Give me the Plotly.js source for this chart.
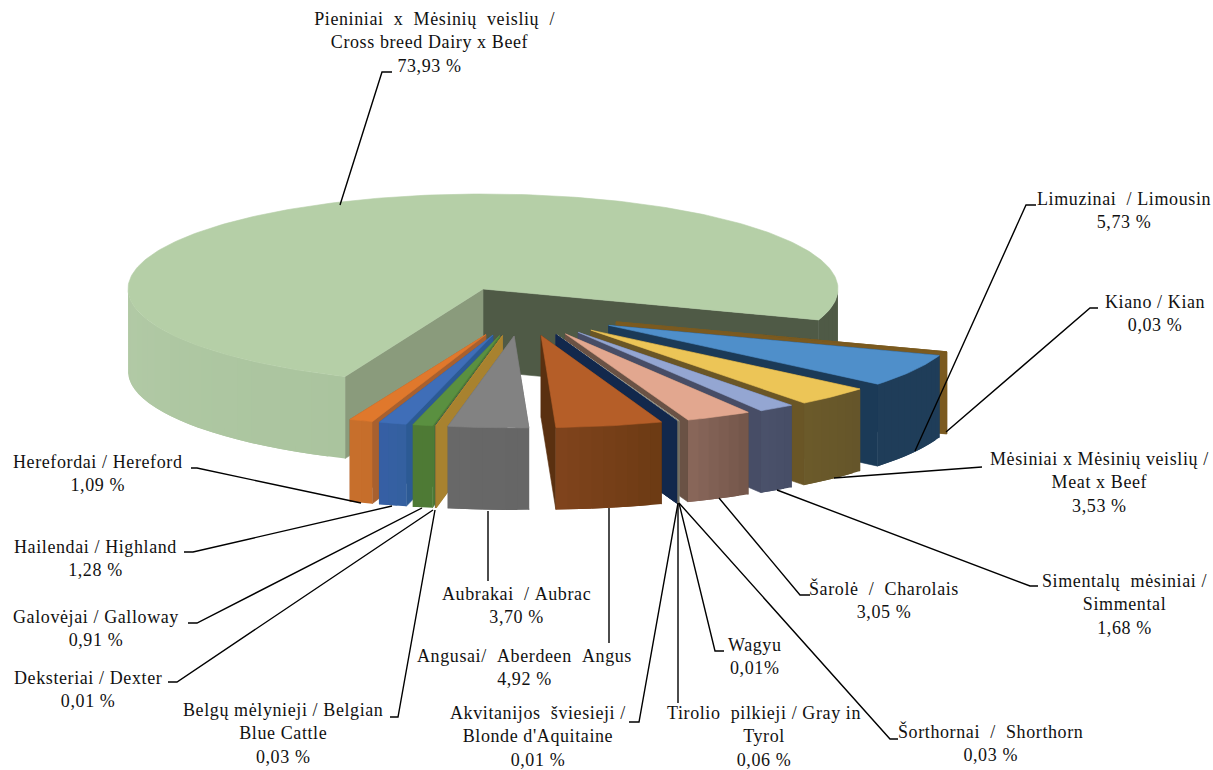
<!DOCTYPE html>
<html><head><meta charset="utf-8">
<script src="https://cdn.plot.ly/plotly-3.0.1.min.js"></script>
<style>html,body{margin:0;padding:0;background:#fff}
.annotation-text{letter-spacing:0.6px}</style></head>
<body><div id="chart" style="width:1213px;height:770px"></div>
<script>
// ---- data, clockwise from the end of the largest slice ----
const names = ["Kiano / Kian","Limuzinai  / Limousin","Mėsiniai x Mėsinių veislių /<br>Meat x Beef","Simentalų  mėsiniai /<br>Simmental","Šarolė  /  Charolais","Šorthornai  /  Shorthorn","Tirolio  pilkieji / Gray in<br>Tyrol","Wagyu","Akvitanijos  šviesieji /<br>Blonde d'Aquitaine","Angusai/  Aberdeen  Angus","Aubrakai  / Aubrac","Belgų mėlynieji / Belgian<br>Blue Cattle","Deksteriai / Dexter","Galovėjai / Galloway","Hailendai / Highland","Herefordai / Hereford","  Pieniniai  x  Mėsinių  veislių  /<br>Cross breed Dairy x Beef"];
const values = [0.03,5.73,3.53,1.68,3.05,0.03,0.06,0.01,0.01,4.92,3.70,0.03,0.01,0.91,1.28,1.09,73.93];
const valueText = ["0,03 %","5,73 %","3,53 %","1,68 %","3,05 %","0,03 %","0,06 %","0,01%","0,01 %","4,92 %","3,70 %","0,03 %","0,01 %","0,91 %","1,28 %","1,09 %","73,93 %"];
// ---- styles ----
const topColor  = ["#7b5a20","#4f8fca","#ecc557","#94a6d2","#e2a78f","#a8a8a0","#8f8c78","#5a6e9a","#13294f","#b55e28","#828282","#b58c2e","#264478","#5a9040","#3f6eb8","#e0782c","#b5cfa7"];
const wallLeft  = ["#7b5a20","#1f3d59","#6b5a2a","#4a516b","#8a675b","#7c7c74","#6e6c5c","#3e4a68","#12284c","#80441c","#686868","#a8822f","#1d3259","#4e7a35","#365fa5","#c8702c","#aac49e"];
const wallRight = ["#7b5a20","#1f3d59","#65552a","#474d66","#735649","#7c7c74","#6e6c5c","#3e4a68","#12284c","#6c3a14","#666666","#a8822f","#1d3259","#4e7a35","#34609f","#c56d2b","#b2caa6"];
const edgeColor = ["#7b5a20","#1b3a57","#6a5626","#474d66","#6a5245","#7c7c74","#6e6c5c","#3e4a68","#12284c","#5a3010","#686868","#a8822f","#1d3259","#4e7a35","#2c5a94","#a8602f","#8a9b7c"];
const endWallMain = "#4f5a46";
// ---- geometry of the drawing ----
const cx=483, cy=289, rx=355, ry=95, rxPart=350, ryPart=92, depth=82, startDeg=19;
const leaders = [
 [[946,432],[1090,308],[1098,308]],
 [[915,451],[1026,205],[1036,205]],
 [[834,478],[975,467],[982,467]],
 [[777,490],[1030,586],[1038,586]],
 [[719,498],[800,595],[810,595]],
 [[679,503],[890,739],[898,739]],
 [[678,503],[678,703]],
 [[679,503],[715,651],[724,651]],
 [[678,503],[639,722],[629,722]],
 [[609,508],[609,643]],
 [[488,511],[488,581]],
 [[435,510],[398,717],[390,717]],
 [[433,510],[177,682],[168,682]],
 [[422,508],[197,623],[188,623]],
 [[392,506],[193,552],[184,552]],
 [[361,503],[197,468],[191,468]],
 [[340,205],[382,72],[392,72]]
];
const labelPos = [[1155,313],[1124,210],[1099,482],[1124,604],[884,600],[990,743],[764,736],[755,656],[538,736],[524,667],[516,605],[283,733],[88,689],[96,628],[95,558],[98,473],[429,42]];

const rad=d=>d*Math.PI/180;
function hex2(c){return [1,3,5].map(i=>parseInt(c.substr(i,2),16));}
function lerp(a,b,t){const A=hex2(a),B=hex2(b);return 'rgb('+A.map((v,i)=>Math.round(v+(B[i]-v)*t)).join(',')+')';}
const traces=[];
function poly(xs,ys,color,w){traces.push({type:'scatter',mode:'lines',x:xs.concat(xs[0]),y:ys.concat(ys[0]),fill:'toself',fillcolor:color,line:{color:color,width:w===undefined?0.6:w},hoverinfo:'skip',showlegend:false});}

function drawSlice(i,a0,a1,ox,oy){
  const isMain=i===values.length-1;
  const Rx=isMain?rx:rxPart, Ry=isMain?ry:ryPart;
  const rim=(a,d)=>[cx+ox+Rx*Math.cos(rad(a)),cy+oy+Ry*Math.sin(rad(a))+(d||0)];
  const tip=[cx+ox,cy+oy];
  const edgeWall=(a,col)=>{const r=rim(a);poly([tip[0],r[0],r[0],tip[0]],[tip[1],r[1],r[1]+depth,tip[1]+depth],col);};
  const col0=edgeColor[i], col1=isMain?endWallMain:edgeColor[i];
  const r0=rim(a0), r1=rim(a1);
  if(r0[1]<r1[1]){edgeWall(a0,col0);edgeWall(a1,col1);} else {edgeWall(a1,col1);edgeWall(a0,col0);}
  // outer wall, only the part that faces the viewer; segments overlap so no seams show
  const n=Math.max(1,Math.ceil((a1-a0)/(isMain?3:2)));
  const rimPts=(b0,b1)=>{const xs=[],ys=[];const s=6;
    for(let k=0;k<=s;k++){const p=rim(b0+(b1-b0)*k/s);xs.push(p[0]);ys.push(p[1]);}
    for(let k=s;k>=0;k--){const p=rim(b0+(b1-b0)*k/s,depth);xs.push(p[0]);ys.push(p[1]);}
    return [xs,ys];};
  for(let k=0;k<n;k++){
    const b0=a0+(a1-a0)*k/n,b1=Math.min(a1,a0+(a1-a0)*(k+2)/n);
    const m=a0+(a1-a0)*(k+0.5)/n, s=Math.sin(rad(m));
    if(s<=0 && !(isMain&&m>360)) continue;
    let c;
    if(isMain&&m>360) c=endWallMain;
    else {
      const span=isMain?(180-a0):(a1-a0);
      const t=Math.min(1,(m-a0)/span);
      c=isMain?lerp(wallLeft[i],wallRight[i],t):lerp(wallRight[i],wallLeft[i],t);
    }
    const [xs,ys]=rimPts(b0,Math.min(b1, isMain&&m<=180?180:b1));
    poly(xs,ys,c,0);
  }
  // top face
  const xs=[tip[0]],ys=[tip[1]];
  const steps=Math.max(2,Math.ceil(a1-a0));
  for(let k=0;k<=steps;k++){const p=rim(a0+(a1-a0)*k/steps);xs.push(p[0]);ys.push(p[1]);}
  poly(xs,ys,topColor[i]);
}

const total=values.reduce((a,b)=>a+b,0);
let acc=startDeg; const angles=values.map(v=>{const a=[acc,acc+v/total*360];acc=a[1];return a;});
// largest slice first, it sits behind everything
drawSlice(values.length-1,angles[values.length-1][0],angles[values.length-1][1],0,0);
const order=[...Array(values.length-1).keys()];
const mid=i=>(angles[i][0]+angles[i][1])/2;
// slices left of the front go first, outermost first; then the right-hand ones back to front
const rightSide=order.filter(i=>mid(i)<88);
const leftSide=order.filter(i=>mid(i)>=88).reverse();
[...leftSide, ...rightSide].forEach(i=>{
  const m=rad(mid(i));
  drawSlice(i,angles[i][0],angles[i][1],38.5+100*Math.cos(m),26+21*Math.sin(m));
});
// leader lines
leaders.forEach(l=>traces.push({type:'scatter',mode:'lines',x:l.map(p=>p[0]),y:l.map(p=>p[1]),line:{color:'#000',width:1.4},hoverinfo:'skip',showlegend:false}));

const annotations=names.map((n,i)=>({x:labelPos[i][0],y:labelPos[i][1],xref:'x',yref:'y',xanchor:'center',yanchor:'middle',showarrow:false,align:'center',
  text:(n+'<br>'+valueText[i]).replace(/ /g,'\u00a0').replace(/\u00a0\u00a0/g,'\u00a0\u00a0'),font:{family:'"Liberation Serif",serif',size:18,color:'#111'}}));

Plotly.newPlot('chart',traces,{width:1213,height:770,margin:{l:0,r:0,t:0,b:0},paper_bgcolor:'#fff',plot_bgcolor:'#fff',showlegend:false,
  xaxis:{range:[0,1213],visible:false,fixedrange:true},yaxis:{range:[770,0],visible:false,fixedrange:true},annotations},{displayModeBar:false,staticPlot:true});
</script></body></html>
